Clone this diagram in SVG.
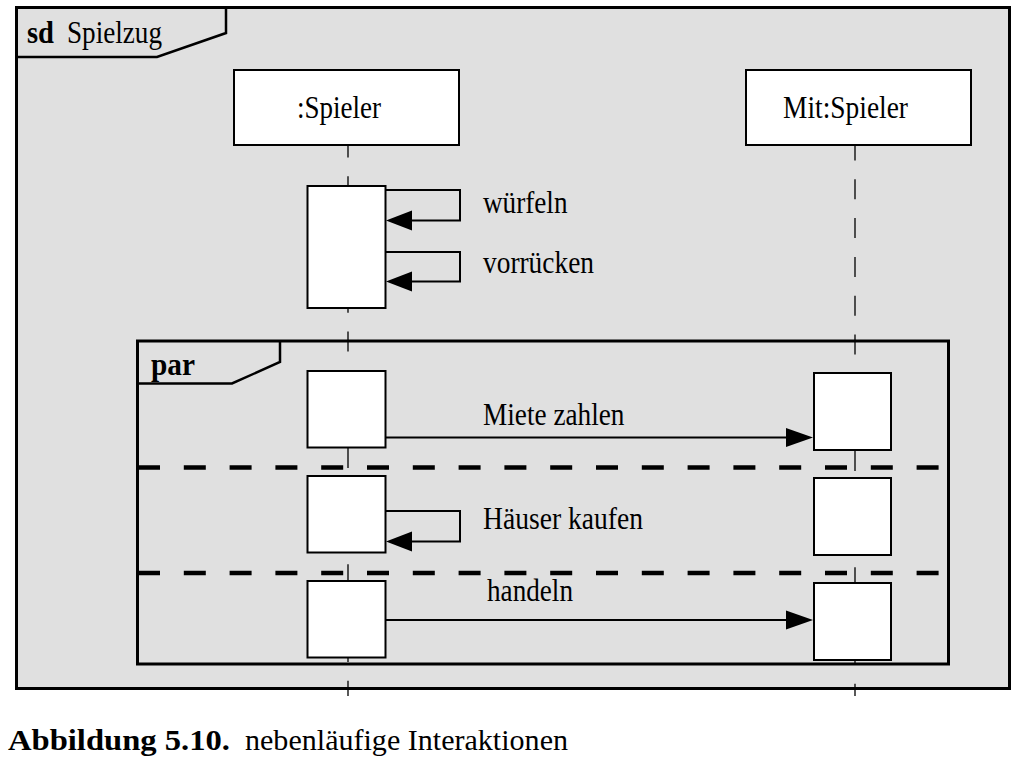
<svg xmlns="http://www.w3.org/2000/svg" width="1025" height="763" viewBox="0 0 1025 763">
<style>
text{font-family:'Liberation Serif','DejaVu Serif',serif;fill:#000}
.lbl{font-size:32px}
.bold{font-weight:bold}
.box{fill:#fff;stroke:#000;stroke-width:2}
.life{stroke:#000;stroke-width:1.3;stroke-dasharray:20 18.8;fill:none}
.msg{stroke:#000;stroke-width:2;fill:none}
.sep{stroke:#000;stroke-width:4.5;stroke-dasharray:22 23.8;fill:none}
.cap{font-size:29px}
</style>
<rect width="1025" height="763" fill="#fff"/>
<g id="frame-sd">
<rect x="16.5" y="7.5" width="993" height="681" fill="#e0e0e0" stroke="#000" stroke-width="3"/>
<polyline points="16.5,57 157,57 226,33 226,7.5" fill="none" stroke="#000" stroke-width="2.5"/>
<text class="lbl bold" x="27" y="43" textLength="27" lengthAdjust="spacingAndGlyphs">sd</text>
<text class="lbl" x="67" y="43" textLength="95" lengthAdjust="spacingAndGlyphs">Spielzug</text>
</g>
<g id="lifelines">
<line class="life" x1="348" y1="137.5" x2="348" y2="696"/>
<line class="life" x1="855" y1="140.5" x2="855" y2="696"/>
</g>
<g id="obj-spieler">
<rect class="box" x="234" y="70" width="225" height="75"/>
<text class="lbl" x="297" y="118" textLength="84" lengthAdjust="spacingAndGlyphs">:Spieler</text>
</g>
<g id="obj-mitspieler">
<rect class="box" x="746" y="70" width="225" height="75"/>
<text class="lbl" x="783" y="118" textLength="125" lengthAdjust="spacingAndGlyphs">Mit:Spieler</text>
</g>
<g id="frame-par">
<rect x="137.5" y="341" width="811" height="323" fill="none" stroke="#000" stroke-width="3"/>
<polyline points="137.5,383.5 232,383.5 280,362 280,341" fill="none" stroke="#000" stroke-width="2.5"/>
<text class="lbl bold" x="151" y="375" textLength="44" lengthAdjust="spacingAndGlyphs">par</text>
<line class="sep" x1="138" y1="467.5" x2="948" y2="467.5"/>
<line class="sep" x1="138" y1="573" x2="948" y2="573"/>
</g>
<g id="activations">
<rect class="box" x="307.5" y="186" width="78" height="122"/>
<rect class="box" x="307.5" y="371" width="78" height="76.5"/>
<rect class="box" x="307.5" y="476" width="78" height="76.5"/>
<rect class="box" x="307.5" y="581" width="78" height="76.5"/>
<rect class="box" x="814" y="373" width="77" height="77"/>
<rect class="box" x="814" y="478" width="77" height="77"/>
<rect class="box" x="814" y="583" width="77" height="77"/>
</g>
<g id="connectors">
<polyline class="msg" points="386,190 460,190 460,220.5 410,220.5"/>
<polygon points="386,220.5 412,210.5 412,230.5" fill="#000"/>
<polyline class="msg" points="386,252 460,252 460,281.5 410,281.5"/>
<polygon points="386,281.5 412,271.5 412,291.5" fill="#000"/>
<line class="msg" x1="386" y1="437.5" x2="788" y2="437.5"/>
<polygon points="813,437.5 786,428 786,447" fill="#000"/>
<polyline class="msg" points="386,511 460,511 460,541.5 410,541.5"/>
<polygon points="386,541.5 412,531.5 412,551.5" fill="#000"/>
<line class="msg" x1="386" y1="620" x2="788" y2="620"/>
<polygon points="813,620 786,610.5 786,629.5" fill="#000"/>
</g>
<g id="labels">
<text class="lbl" x="483" y="212.5" textLength="84.5" lengthAdjust="spacingAndGlyphs">würfeln</text>
<text class="lbl" x="483" y="273" textLength="111" lengthAdjust="spacingAndGlyphs">vorrücken</text>
<text class="lbl" x="483" y="424.5" textLength="141.5" lengthAdjust="spacingAndGlyphs">Miete zahlen</text>
<text class="lbl" x="483" y="528.5" textLength="160" lengthAdjust="spacingAndGlyphs">Häuser kaufen</text>
<text class="lbl" x="487" y="601" textLength="86" lengthAdjust="spacingAndGlyphs">handeln</text>
</g>
<g id="caption">
<text class="cap" x="8" y="750" font-weight="bold" textLength="222" lengthAdjust="spacingAndGlyphs">Abbildung 5.10.</text>
<text class="cap" x="245" y="750" textLength="323" lengthAdjust="spacingAndGlyphs">nebenläufige Interaktionen</text>
</g>
</svg>
